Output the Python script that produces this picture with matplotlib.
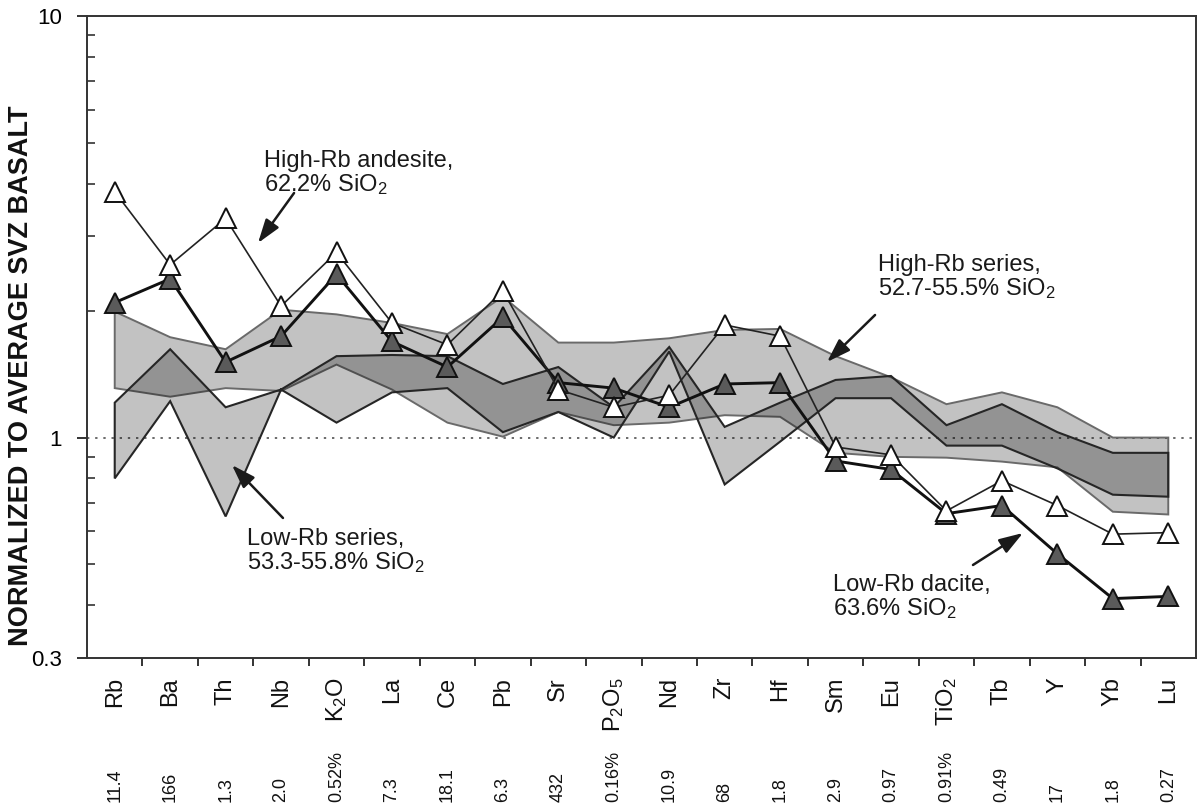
import numpy as np
import matplotlib
matplotlib.use('Agg')
import matplotlib.pyplot as plt
from matplotlib.ticker import NullFormatter
from matplotlib.transforms import blended_transform_factory

plt.rcParams['font.family'] = ['Liberation Sans', 'DejaVu Sans']
plt.rcParams['mathtext.fontset'] = 'custom'
plt.rcParams['mathtext.rm'] = 'Liberation Sans'
plt.rcParams['mathtext.it'] = 'Liberation Sans:italic'
plt.rcParams['mathtext.bf'] = 'Liberation Sans:bold'

# ---------------- data ----------------
elements = ['Rb', 'Ba', 'Th', 'Nb', r'K$_\mathregular{2}$O', 'La', 'Ce', 'Pb', 'Sr',
            r'P$_\mathregular{2}$O$_\mathregular{5}$', 'Nd', 'Zr', 'Hf', 'Sm', 'Eu',
            r'TiO$_\mathregular{2}$', 'Tb', 'Y', 'Yb', 'Lu']
basalt_avg = ['11.4', '166', '1.3', '2.0', '0.52%', '7.3', '18.1', '6.3', '432', '0.16%',
              '10.9', '68', '1.8', '2.9', '0.97', '0.91%', '0.49', '17', '1.8', '0.27']

andesite = [3.83, 2.57, 3.31, 2.05, 2.75, 1.87, 1.66, 2.23, 1.30, 1.18,
            1.26, 1.85, 1.74, 0.95, 0.91, 0.67, 0.79, 0.69, 0.59, 0.595]
dacite = [2.09, 2.38, 1.51, 1.74, 2.44, 1.69, 1.47, 1.93, 1.35, 1.31,
          1.18, 1.34, 1.35, 0.88, 0.84, 0.66, 0.69, 0.53, 0.415, 0.42]
high_rb_upper = [1.99, 1.73, 1.62, 2.01, 1.96, 1.87, 1.76, 2.16, 1.68, 1.68,
                 1.72, 1.80, 1.81, 1.56, 1.39, 1.20, 1.28, 1.18, 1.00, 1.00]
high_rb_lower = [1.31, 1.25, 1.31, 1.29, 1.49, 1.30, 1.085, 1.005, 1.15, 1.07,
                 1.085, 1.13, 1.12, 0.92, 0.90, 0.896, 0.877, 0.85, 0.667, 0.657]
low_rb_upper = [1.21, 1.62, 1.18, 1.30, 1.56, 1.57, 1.56, 1.34, 1.47, 1.18,
                1.64, 1.06, 1.21, 1.37, 1.40, 1.07, 1.20, 1.03, 0.92, 0.92]
low_rb_lower = [0.80, 1.22, 0.65, 1.30, 1.085, 1.28, 1.31, 1.03, 1.15, 1.00,
                1.60, 0.774, 0.978, 1.24, 1.24, 0.957, 0.957, 0.845, 0.732, 0.724]

y_major = [0.3, 1, 10]
y_major_labels = ['0.3', '1', '10']
y_minor = [0.4, 0.5, 0.6, 0.7, 0.8, 0.9, 2, 3, 4, 5, 6, 7, 8, 9]

# ---------------- figure ----------------
W, H = 1198, 808
fig = plt.figure(figsize=(W / 100, H / 100), dpi=100)
ax = fig.add_axes([87 / W, 1 - 658 / H, (1196 - 87) / W, (658 - 16) / H])

x = np.arange(len(elements))

ax.set_yscale('log')
ax.set_ylim(0.3, 10)
ax.set_xlim(-0.5, len(elements) - 0.5)

# bands
ax.fill(np.r_[x, x[::-1]], np.r_[high_rb_upper, high_rb_lower[::-1]],
        facecolor=(0, 0, 0, 0.24), edgecolor='#6a6a6a', lw=1.4, zorder=1)
ax.fill(np.r_[x, x[::-1]], np.r_[low_rb_upper, low_rb_lower[::-1]],
        facecolor=(0, 0, 0, 0.24), edgecolor='#262626', lw=1.5, zorder=1.2)

ax.axhline(1, color='#6a6a6a', lw=1.4, ls=(0, (1.2, 3.0)), zorder=0.5)

# sample lines
ax.plot(x, dacite, '-', color='#111111', lw=2.1, marker='^', ms=14,
        mfc='#5a5a5a', mec='#111111', mew=1.4, zorder=3)
ax.plot(x, andesite, '-', color='#222222', lw=1.2, marker='^', ms=14,
        mfc='white', mec='#111111', mew=1.4, zorder=4)

# axes styling
for s in ax.spines.values():
    s.set_linewidth(1.4)
    s.set_color('#333333')

ax.set_yticks(y_major, labels=y_major_labels)
ax.set_yticks(y_minor, minor=True)
ax.yaxis.set_minor_formatter(NullFormatter())
ax.tick_params(axis='y', which='major', direction='out', length=7.2, width=1.4,
               labelsize=16, pad=11, color='#333333')
ax.tick_params(axis='y', which='minor', direction='in', length=5.5, width=1.2,
               color='#333333')
ax.set_xticks(np.arange(0.5, len(elements) - 1, 1))
ax.set_xticklabels([])
ax.tick_params(axis='x', which='major', direction='out', length=6, width=1.4,
               color='#333333')
ax.tick_params(axis='x', which='minor', bottom=False)

trans = blended_transform_factory(ax.transData, ax.transAxes)
for i, (lab, val) in enumerate(zip(elements, basalt_avg)):
    ax.text(i, -0.0296, lab, transform=trans, rotation=90, rotation_mode='anchor',
            ha='right', va='center', fontsize=17, color='#111111')
    ax.text(i, -0.2243, val, transform=trans, rotation=90, rotation_mode='anchor',
            ha='left', va='center', fontsize=13, color='#111111')

fig.text(21 / W, 1 - 376 / H, 'NORMALIZED TO AVERAGE SVZ BASALT', rotation=90,
         ha='center', va='center', fontsize=19.5, fontweight='bold', color='#111111')

# annotations
notes = [
    ('High-Rb andesite,\n62.2% SiO$_\\mathregular{2}$', (0.1596, 0.7913), (0.1867, 0.7243), (0.1542, 0.6464)),
    ('High-Rb series,\n52.7-55.5% SiO$_\\mathregular{2}$', (0.7133, 0.6293), (0.7106, 0.5343), (0.6673, 0.4611)),
    ('Low-Rb series,\n53.3-55.8% SiO$_\\mathregular{2}$', (0.1443, 0.2025), (0.1767, 0.2181), (0.1307, 0.3006)),
    ('Low-Rb dacite,\n63.6% SiO$_\\mathregular{2}$', (0.6727, 0.1308), (0.7989, 0.1449), (0.8440, 0.1947)),
]
for txt, pos, tail, head in notes:
    ax.text(pos[0], pos[1], txt, transform=ax.transAxes, ha='left', va='top',
            fontsize=17, linespacing=1.0, color='#1a1a1a', zorder=6)
    ax.annotate('', xy=head, xytext=tail, xycoords='axes fraction', textcoords='axes fraction',
                arrowprops=dict(arrowstyle='-|>,head_length=0.9,head_width=0.3', lw=1.8,
                                color='#1a1a1a', shrinkA=0, shrinkB=0, mutation_scale=16),
                zorder=6)

fig.savefig('out.png', dpi=100)
